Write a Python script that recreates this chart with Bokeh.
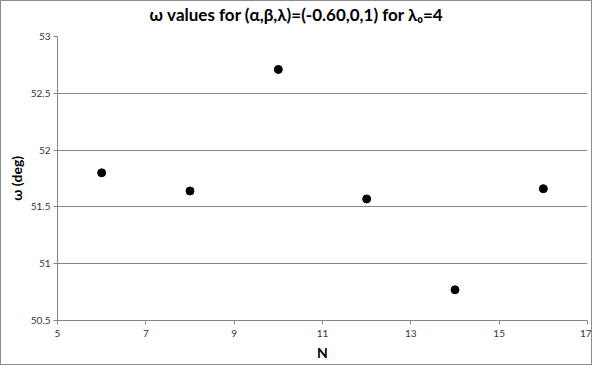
from bokeh.plotting import figure
from bokeh.models import Range1d, FixedTicker, ColumnDataSource, Title
from bokeh.embed import file_html
from bokeh.resources import INLINE

title_text = "ω values for (α,β,λ)=(-0.60,0,1) for λ₀=4"
n_values = [6, 8, 10, 12, 14, 16]
omega_values = [51.80, 51.64, 52.71, 51.57, 50.77, 51.66]
x_ticks = [5, 7, 9, 11, 13, 15, 17]
y_ticks = [50.5, 51, 51.5, 52, 52.5, 53]

FONT = "Lato"
GRID = "#868686"
W, H = 592, 365
ML, MR, MT, MB = 56, 6, 20, 46

p = figure(width=W, height=H, output_backend="svg", toolbar_location=None,
           x_range=Range1d(5, 17), y_range=Range1d(50.5, 53),
           min_border_left=ML, min_border_right=MR, min_border_top=MT, min_border_bottom=MB)

p.styles = {"border": "1px solid #8c8c8c"}

# spacer between frame and title (closest to the frame)
p.add_layout(Title(text=" ", text_font_size="1px", standoff=9), "above")
main_title = Title(text=title_text, align="left", offset=92, vertical_align="bottom",
                   standoff=0, text_font=FONT, text_font_size="17px",
                   text_font_style="bold", text_color="black")
p.add_layout(main_title, "above")

src = ColumnDataSource(dict(n=n_values, w=omega_values))
p.scatter("n", "w", source=src, size=8, color="black")

p.xaxis.ticker = FixedTicker(ticks=x_ticks)
p.yaxis.ticker = FixedTicker(ticks=y_ticks)
p.yaxis.major_label_overrides = {50.5: "50.5", 51: "51", 51.5: "51.5", 52: "52", 52.5: "52.5", 53: "53"}
p.xaxis.minor_tick_line_color = None
p.yaxis.minor_tick_line_color = None
for ax in (p.xaxis[0], p.yaxis[0]):
    ax.axis_line_color = GRID
    ax.major_tick_line_color = GRID
    ax.major_tick_in = 0
    ax.major_tick_out = 4
    ax.major_label_text_font = FONT
    ax.major_label_text_font_size = "10px"
    ax.major_label_text_color = "#333333"
    ax.axis_label_text_font = FONT
    ax.axis_label_text_font_size = "14px"
    ax.axis_label_text_font_style = "bold"
    ax.axis_label_text_color = "black"
p.xaxis.axis_label = "N"
p.yaxis.axis_label = "ω (deg)"
p.yaxis.major_label_standoff = 3
p.xaxis.major_label_standoff = 5
p.xaxis.axis_label_standoff = 4
p.yaxis.axis_label_standoff = 3

p.xgrid.grid_line_color = None
p.ygrid.grid_line_color = GRID
p.outline_line_color = None

open("out.html", "w").write(file_html(p, INLINE))
